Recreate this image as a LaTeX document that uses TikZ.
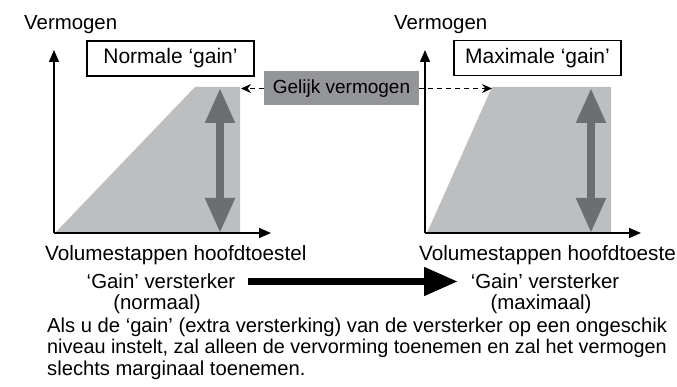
\documentclass[tikz,border=0pt]{standalone}
\usepackage{fontspec}
\setmainfont{Liberation Sans}
\usetikzlibrary{arrows.meta}
\definecolor{fillgray}{HTML}{BCBEC0}
\definecolor{arrgray}{HTML}{6D6E71}
\definecolor{boxgray}{HTML}{939598}
\begin{document}
\begin{tikzpicture}[x=1pt,y=-1pt,
  font=\fontsize{20.4}{24}\selectfont,
  axis/.style={line width=1.5pt,-{Triangle[length=12pt,width=10pt]}},
  txt/.style={inner sep=0pt,anchor=base west},
  ctxt/.style={inner sep=0pt,anchor=base},
  bigtxt/.style={font=\fontsize{20.7}{24}\selectfont},
  paratxt/.style={font=\fontsize{20.2}{24}\selectfont},
  paratxtb/.style={font=\fontsize{19.8}{24}\selectfont},
  labelbox/.style={draw,line width=1.1pt,fill=white,minimum width=167pt,minimum height=35pt,inner sep=0pt,font=\fontsize{21}{24}\selectfont},
  graybox/.style={fill=boxgray,minimum width=155pt,minimum height=34pt,inner sep=0pt,font=\fontsize{19}{22}\selectfont},
  dasharrow/.style={line width=1.3pt,dash pattern=on 5pt off 4pt,-{Stealth[length=10pt,width=9pt]}},
  levelarrow/.style={arrgray,line width=8pt,{Triangle[length=35pt,width=28pt]}-{Triangle[length=35pt,width=28pt]}},
  bigarrow/.style={line width=7.5pt,-{Triangle[length=34pt,width=27pt]}},
  area/.style={fill=fillgray}
]
\useasboundingbox (0,0) rectangle (677,387);

% ---------- left chart ----------
\coordinate (O1) at (54,233);
\coordinate (Y1) at (54,50);
\coordinate (X1) at (271,233);
\coordinate (lt1) at (220,88);
\coordinate (lb1) at (220,233);
\fill[area] (55,233) -- (195,87) -- (240,87) -- (240,233) -- cycle;
\draw[levelarrow] (lt1) -- (lb1);
\draw[axis] (O1) -- (Y1);
\draw[axis] (O1) -- (X1);
\node[txt] (verm1) at (24,30) {Vermogen};
\node[labelbox] (norm) at (170.5,58.5) {Normale ‘gain’};

% ---------- right chart ----------
\coordinate (O2) at (425,233);
\coordinate (Y2) at (425,50);
\coordinate (X2) at (641,233);
\coordinate (lt2) at (591,88);
\coordinate (lb2) at (591,233);
\fill[area] (427,233) -- (492,87) -- (611,87) -- (611,233) -- cycle;
\draw[levelarrow] (lt2) -- (lb2);
\draw[axis] (O2) -- (Y2);
\draw[axis] (O2) -- (X2);
\node[txt] (verm2) at (394,30) {Vermogen};
\node[labelbox] (maxi) at (537.5,58) {Maximale ‘gain’};

% ---------- equal power ----------
\node[graybox] (gelijk) at (341.5,88.5) {Gelijk vermogen};
\coordinate (tipL) at (241,88.5);
\coordinate (tipR) at (492,88.5);
\draw[dasharrow] (gelijk.west) -- (tipL);
\draw[dasharrow] (gelijk.east) -- (tipR);

% ---------- bottom labels ----------
\node[txt,bigtxt] (vol1) at (45,261) {Volumestappen hoofdtoestel};
\node[txt,bigtxt] (vol2) at (419,261) {Volumestappen hoofdtoeste};
\node[ctxt] (gain1) at (161,288) {‘Gain’ versterker};
\node[ctxt] (mode1) at (157,309) {(normaal)};
\node[ctxt] (gain2) at (545,288) {‘Gain’ versterker};
\node[ctxt] (mode2) at (541,309) {(maximaal)};
\coordinate (ba1) at (248,281.5);
\coordinate (ba2) at (458,281.5);
\draw[bigarrow] (ba1) -- (ba2);

% ---------- paragraph ----------
\node[txt,paratxt] (p1) at (47,332) {Als u de ‘gain’ (extra versterking) van de versterker op een ongeschik};
\node[txt,paratxtb] (p2) at (47,353.5) {niveau instelt, zal alleen de vervorming toenemen en zal het vermogen};
\node[txt,paratxt] (p3) at (47,375) {slechts marginaal toenemen.};
\end{tikzpicture}
\end{document}
